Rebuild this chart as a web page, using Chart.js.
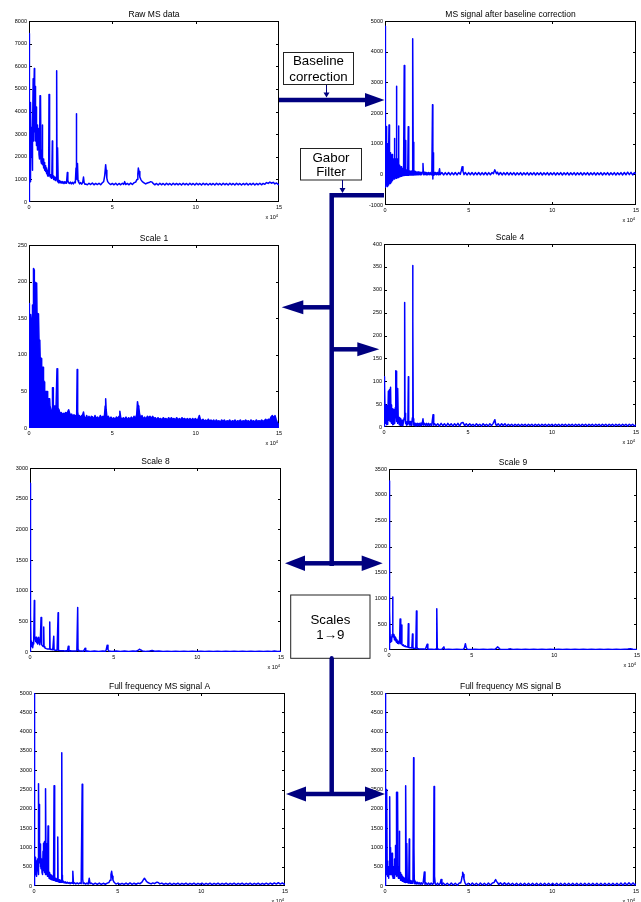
<!DOCTYPE html>
<html><head><meta charset="utf-8">
<script src="https://cdn.jsdelivr.net/npm/chart.js@4.4.1/dist/chart.umd.min.js"></script>
<style>
html,body{margin:0;padding:0;background:#fff;}
#page{position:relative;width:641px;height:902px;overflow:hidden;background:#fff;}
#page canvas{position:absolute;}
#page svg{position:absolute;left:0;top:0;}
</style></head>
<body><div id="page"></div>
<script>
// ---------------- DATA (x in units of 10^4) ----------------
const xRange = [0, 15, 5];
const titles = ['Raw MS data', 'MS signal after baseline correction', 'Scale 1', 'Scale 4',
                'Scale 8', 'Scale 9', 'Full frequency MS signal A', 'Full frequency MS signal B'];
const rawRange = [0, 8000, 1000];
const bcRange = [-1000, 5000, 1000];
const s1Range = [0, 250, 50];
const s4Range = [0, 400, 50];
const s8Range = [0, 3000, 500];
const s9Range = [0, 3500, 500];
const fullRange = [0, 5000, 500];
const boxTexts = [['Baseline', 'correction'], ['Gabor', 'Filter'], ['Scales', '1\u21929']];

const rawMS = [[0,0],[0.01,2500],[0.025,7450],[0.04,2200],[0.06,900],[0.08,3000],[0.1,4400],[0.12,2400],[0.14,3300],[0.16,2000],[0.18,2600],[0.2,1400],[0.22,2900],[0.25,5450],[0.27,2700],[0.29,4300],[0.32,5900],[0.34,3100],[0.36,4200],[0.38,5100],[0.4,2700],[0.42,3600],[0.44,4200],[0.46,2500],[0.48,3000],[0.5,3400],[0.52,2300],[0.55,3000],[0.58,3250],[0.6,2100],[0.62,2800],[0.64,1900],[0.66,4700],[0.68,2000],[0.7,4650],[0.72,1800],[0.74,2300],[0.76,1700],[0.78,2100],[0.8,3400],[0.82,1650],[0.85,1900],[0.88,1500],[0.91,1750],[0.94,1400],[0.97,1600],[1.0,1350],[1.03,1500],[1.06,1250],[1.09,1400],[1.12,1150],[1.15,1300],[1.18,1150],[1.2,4750],[1.22,1200],[1.25,1250],[1.28,1100],[1.31,1200],[1.34,1050],[1.37,1150],[1.4,2700],[1.42,1100],[1.45,1150],[1.48,1000],[1.51,1100],[1.54,980],[1.57,1080],[1.6,950],[1.63,1050],[1.66,5800],[1.68,1100],[1.7,900],[1.73,2400],[1.75,950],[1.78,850],[1.82,950],[1.86,850],[1.9,920],[1.95,840],[2.0,900],[2.05,820],[2.1,890],[2.15,820],[2.2,880],[2.25,830],[2.3,1300],[2.33,950],[2.37,850],[2.42,820],[2.48,880],[2.54,800],[2.6,870],[2.66,800],[2.72,880],[2.78,850],[2.82,1500],[2.84,3900],[2.86,1400],[2.88,1000],[2.91,1700],[2.94,950],[2.98,880],[3.04,800],[3.1,860],[3.16,790],[3.22,860],[3.27,1100],[3.31,850],[3.36,780],[3.4,800],[3.5,760],[3.6,830],[3.7,770],[3.8,840],[3.9,760],[4.0,820],[4.1,770],[4.2,830],[4.3,760],[4.4,850],[4.48,900],[4.54,1150],[4.6,1650],[4.63,1400],[4.67,1050],[4.72,900],[4.8,830],[4.9,770],[5.0,820],[5.1,760],[5.2,830],[5.3,750],[5.4,820],[5.5,760],[5.6,830],[5.68,780],[5.74,900],[5.8,770],[5.9,820],[6.0,760],[6.1,840],[6.2,770],[6.3,850],[6.4,880],[6.48,1000],[6.53,1250],[6.56,1500],[6.6,1350],[6.65,1100],[6.72,980],[6.8,900],[6.9,850],[7.0,800],[7.1,840],[7.2,860],[7.3,900],[7.38,880],[7.45,820],[7.55,760],[7.65,820],[7.75,750],[7.85,830],[7.95,760],[8.05,820],[8.15,750],[8.25,830],[8.35,760],[8.45,820],[8.55,750],[8.65,830],[8.75,760],[8.85,820],[8.95,760],[9.05,820],[9.15,750],[9.25,830],[9.35,760],[9.45,820],[9.55,750],[9.65,830],[9.75,760],[9.85,820],[9.95,750],[10.05,830],[10.15,760],[10.25,820],[10.35,750],[10.45,830],[10.55,760],[10.65,820],[10.75,750],[10.85,820],[10.95,760],[11.05,820],[11.15,750],[11.25,830],[11.35,760],[11.45,820],[11.55,750],[11.65,830],[11.75,760],[11.85,820],[11.95,750],[12.05,830],[12.15,760],[12.25,820],[12.35,750],[12.45,830],[12.55,760],[12.65,820],[12.75,750],[12.85,820],[12.95,760],[13.05,830],[13.15,750],[13.25,820],[13.35,760],[13.45,830],[13.55,750],[13.65,820],[13.75,760],[13.85,830],[13.95,760],[14.05,820],[14.15,780],[14.25,860],[14.35,820],[14.45,880],[14.55,830],[14.65,870],[14.75,800],[14.85,840],[14.95,770],[15,780]];

const baselineMS = [[0,-300],[0.008,4830],[0.016,-420],[0.03,1200],[0.045,-380],[0.06,900],[0.08,1560],[0.095,-350],[0.11,700],[0.125,-400],[0.14,1000],[0.155,-300],[0.17,600],[0.185,-350],[0.2,900],[0.215,-250],[0.23,700],[0.24,1610],[0.255,-300],[0.27,800],[0.285,-250],[0.3,500],[0.315,-300],[0.33,700],[0.345,-200],[0.36,600],[0.375,-250],[0.39,500],[0.405,-200],[0.42,650],[0.435,-150],[0.45,450],[0.465,-200],[0.48,500],[0.495,-150],[0.51,400],[0.525,-120],[0.54,500],[0.56,1170],[0.575,-150],[0.59,450],[0.605,-120],[0.62,380],[0.635,-100],[0.65,500],[0.665,-100],[0.68,2870],[0.695,-130],[0.71,350],[0.725,-100],[0.74,500],[0.755,-90],[0.77,300],[0.785,-100],[0.8,350],[0.82,1580],[0.835,-80],[0.85,250],[0.865,-80],[0.88,300],[0.9,-70],[0.92,220],[0.94,-60],[0.96,250],[0.98,-60],[1.0,200],[1.02,-50],[1.04,180],[1.06,-50],[1.08,200],[1.1,-40],[1.12,150],[1.15,3550],[1.17,-40],[1.19,160],[1.21,-30],[1.23,1100],[1.25,-30],[1.27,140],[1.29,-30],[1.31,130],[1.33,-30],[1.36,150],[1.39,1550],[1.41,-30],[1.43,120],[1.45,-25],[1.48,110],[1.5,-25],[1.53,100],[1.56,-20],[1.59,110],[1.62,-20],[1.64,120],[1.67,4420],[1.69,-20],[1.71,1050],[1.73,-20],[1.76,100],[1.79,-20],[1.82,90],[1.86,-15],[1.9,80],[1.94,-15],[1.98,80],[2.02,-15],[2.06,70],[2.1,-10],[2.14,70],[2.18,-10],[2.22,70],[2.27,350],[2.3,-10],[2.34,70],[2.38,-10],[2.42,60],[2.46,-10],[2.5,60],[2.55,-10],[2.6,60],[2.65,-10],[2.7,60],[2.75,-10],[2.8,60],[2.84,2270],[2.86,-150],[2.88,700],[2.9,-30],[2.94,60],[2.98,-10],[3.03,60],[3.08,-10],[3.13,60],[3.18,-10],[3.22,60],[3.26,180],[3.3,-10],[3.4,60],[3.5,-20],[3.6,55],[3.7,-15],[3.8,60],[3.9,-20],[4.0,55],[4.1,-15],[4.2,60],[4.3,-20],[4.4,55],[4.5,0],[4.56,120],[4.61,250],[4.66,100],[4.72,-10],[4.8,60],[4.9,-20],[5.0,55],[5.1,-15],[5.2,60],[5.3,-20],[5.4,55],[5.5,-15],[5.6,60],[5.7,-20],[5.8,55],[5.9,-15],[6.0,60],[6.1,-20],[6.2,55],[6.3,-15],[6.4,60],[6.48,20],[6.53,110],[6.56,150],[6.6,100],[6.66,20],[6.72,70],[6.8,-15],[6.9,60],[7.0,-20],[7.1,55],[7.2,-15],[7.3,60],[7.4,-20],[7.5,55],[7.6,-15],[7.7,55],[7.8,-20],[7.9,50],[8.0,-15],[8.1,55],[8.2,-20],[8.3,50],[8.4,-15],[8.5,55],[8.6,-20],[8.7,50],[8.8,-15],[8.9,55],[9.0,-20],[9.1,50],[9.2,-15],[9.3,55],[9.4,-20],[9.5,50],[9.6,-15],[9.7,55],[9.8,-20],[9.9,50],[10.0,-15],[10.1,55],[10.2,-20],[10.3,50],[10.4,-15],[10.5,55],[10.6,-20],[10.7,50],[10.8,-15],[10.9,55],[11.0,-20],[11.1,50],[11.2,-15],[11.3,55],[11.4,-20],[11.5,50],[11.6,-15],[11.7,55],[11.8,-20],[11.9,50],[12.0,-15],[12.1,55],[12.2,-20],[12.3,50],[12.4,-15],[12.5,55],[12.6,-20],[12.7,50],[12.8,-15],[12.9,55],[13.0,-20],[13.1,50],[13.2,-15],[13.3,55],[13.4,-20],[13.5,50],[13.6,-15],[13.7,55],[13.8,-20],[13.9,50],[14.0,-15],[14.1,55],[14.2,-20],[14.3,60],[14.4,-15],[14.5,70],[14.6,-10],[14.7,65],[14.8,-20],[14.9,55],[15,10]];

const scale1 = [[0,0],[0.005,170],[0.03,168],[0.04,125],[0.09,125],[0.1,155],[0.12,150],[0.14,120],[0.2,120],[0.21,168],[0.25,166],[0.27,218],[0.31,216],[0.32,185],[0.36,185],[0.37,199],[0.46,198],[0.48,157],[0.57,156],[0.6,120],[0.65,118],[0.67,96],[0.73,95],[0.76,83],[0.84,83],[0.87,65],[0.92,63],[0.94,50],[1.08,50],[1.12,40],[1.24,40],[1.26,30],[1.31,30],[1.33,24],[1.4,24],[1.41,55],[1.44,55],[1.46,30],[1.6,30],[1.62,27],[1.67,27],[1.68,81],[1.72,80],[1.74,27],[1.8,25],[1.86,20],[1.94,21],[2.0,18],[2.06,20],[2.12,19],[2.2,21],[2.26,20],[2.32,22],[2.38,25],[2.44,20],[2.5,17],[2.56,19],[2.62,16],[2.7,18],[2.78,16],[2.86,18],[2.89,80],[2.92,22],[2.96,16],[3.02,17],[3.1,14],[3.16,17],[3.22,18],[3.27,22],[3.32,15],[3.4,13],[3.46,17],[3.52,13],[3.6,16],[3.68,12],[3.74,16],[3.82,15],[3.9,12],[3.96,17],[4.04,13],[4.12,15],[4.2,12],[4.28,17],[4.36,14],[4.44,16],[4.52,15],[4.57,30],[4.6,40],[4.63,25],[4.68,14],[4.76,16],[4.84,12],[4.92,15],[5.0,12],[5.08,14],[5.16,11],[5.24,15],[5.32,13],[5.4,16],[5.45,23],[5.5,15],[5.58,11],[5.66,14],[5.74,12],[5.82,15],[5.9,11],[5.98,14],[6.06,12],[6.14,15],[6.22,12],[6.3,16],[6.38,13],[6.46,18],[6.51,36],[6.55,30],[6.59,28],[6.63,20],[6.7,14],[6.78,17],[6.86,12],[6.94,15],[7.02,12],[7.1,16],[7.18,14],[7.26,16],[7.34,13],[7.42,16],[7.5,13],[7.58,14],[7.66,11],[7.74,14],[7.82,12],[7.9,13],[7.98,11],[8.06,14],[8.14,12],[8.22,13],[8.3,11],[8.38,14],[8.46,11],[8.54,14],[8.62,12],[8.7,13],[8.78,11],[8.86,14],[8.94,11],[9.02,13],[9.1,11],[9.18,14],[9.26,12],[9.34,13],[9.42,11],[9.5,13],[9.58,11],[9.66,13],[9.74,10],[9.82,13],[9.9,11],[9.98,13],[10.06,11],[10.14,12],[10.22,17],[10.28,12],[10.36,10],[10.44,12],[10.52,9],[10.6,11],[10.68,9],[10.76,12],[10.84,9],[10.92,11],[11.0,9],[11.08,11],[11.16,8],[11.24,11],[11.32,9],[11.4,10],[11.48,8],[11.56,11],[11.64,9],[11.72,11],[11.8,8],[11.88,10],[11.96,9],[12.04,11],[12.12,8],[12.2,10],[12.28,9],[12.36,11],[12.44,8],[12.52,10],[12.6,9],[12.68,11],[12.76,8],[12.84,10],[12.92,9],[13.0,11],[13.08,9],[13.16,10],[13.24,8],[13.32,11],[13.4,9],[13.48,10],[13.56,8],[13.64,11],[13.72,9],[13.8,10],[13.88,9],[13.96,11],[14.04,9],[14.12,10],[14.2,12],[14.28,10],[14.36,12],[14.44,11],[14.52,15],[14.6,17],[14.68,14],[14.76,17],[14.84,11],[14.92,6],[15,5]];

const scale4 = [[0,0],[0.01,110],[0.03,50],[0.05,95],[0.07,20],[0.09,48],[0.11,8],[0.13,45],[0.15,5],[0.17,47],[0.19,10],[0.21,42],[0.23,6],[0.26,78],[0.28,15],[0.3,80],[0.32,20],[0.34,82],[0.36,12],[0.38,45],[0.4,87],[0.42,15],[0.44,48],[0.46,8],[0.49,40],[0.52,5],[0.55,38],[0.58,6],[0.61,35],[0.64,8],[0.67,42],[0.69,123],[0.71,20],[0.73,122],[0.75,12],[0.78,35],[0.8,8],[0.83,84],[0.85,10],[0.88,22],[0.91,5],[0.94,20],[0.97,4],[1.0,18],[1.04,4],[1.08,15],[1.12,3],[1.16,12],[1.2,20],[1.23,272],[1.25,30],[1.27,8],[1.3,12],[1.34,4],[1.38,12],[1.42,5],[1.45,110],[1.47,8],[1.5,12],[1.54,4],[1.58,12],[1.62,4],[1.66,10],[1.69,20],[1.71,353],[1.72,231],[1.74,18],[1.77,4],[1.81,9],[1.85,3],[1.9,8],[1.95,3],[2.0,8],[2.05,3],[2.1,8],[2.15,3],[2.2,9],[2.26,4],[2.32,18],[2.36,4],[2.42,8],[2.48,3],[2.54,8],[2.6,3],[2.66,8],[2.72,3],[2.78,7],[2.84,3],[2.92,27],[2.96,4],[3.02,7],[3.1,3],[3.2,7],[3.3,2],[3.4,8],[3.5,3],[3.6,7],[3.7,2],[3.8,8],[3.9,3],[4.0,7],[4.1,2],[4.2,7],[4.3,3],[4.4,8],[4.5,2],[4.6,9],[4.7,10],[4.8,3],[4.9,7],[5.0,2],[5.1,7],[5.2,3],[5.3,6],[5.4,2],[5.5,7],[5.6,3],[5.7,6],[5.8,2],[5.9,7],[6.0,3],[6.1,6],[6.2,2],[6.3,7],[6.4,3],[6.5,8],[6.6,16],[6.65,6],[6.7,3],[6.8,7],[6.9,2],[7.0,7],[7.1,3],[7.2,7],[7.3,2],[7.4,6],[7.5,3],[7.6,6],[7.7,2],[7.8,6],[7.9,3],[8.0,6],[8.1,2],[8.2,6],[8.3,3],[8.4,6],[8.5,2],[8.6,6],[8.7,3],[8.8,6],[8.9,2],[9.0,6],[9.1,3],[9.2,6],[9.3,2],[9.4,6],[9.5,3],[9.6,6],[9.7,2],[9.8,6],[9.9,3],[10.0,6],[10.1,2],[10.2,6],[10.3,3],[10.4,6],[10.5,2],[10.6,6],[10.7,3],[10.8,6],[10.9,2],[11.0,6],[11.1,3],[11.2,6],[11.3,2],[11.4,6],[11.5,3],[11.6,6],[11.7,2],[11.8,6],[11.9,3],[12.0,6],[12.1,2],[12.2,6],[12.3,3],[12.4,6],[12.5,2],[12.6,6],[12.7,3],[12.8,6],[12.9,2],[13.0,6],[13.1,3],[13.2,6],[13.3,2],[13.4,6],[13.5,3],[13.6,6],[13.7,2],[13.8,6],[13.9,3],[14.0,6],[14.1,2],[14.2,6],[14.3,3],[14.4,6],[14.5,2],[14.6,6],[14.7,3],[14.8,6],[14.9,2],[15,5]];

const scale8 = [[0,0],[0.01,1000],[0.025,2750],[0.035,2700],[0.045,600],[0.06,120],[0.08,180],[0.1,90],[0.13,150],[0.16,70],[0.19,130],[0.22,150],[0.26,840],[0.28,260],[0.31,220],[0.34,170],[0.37,240],[0.4,150],[0.43,190],[0.46,130],[0.49,230],[0.52,240],[0.55,150],[0.58,120],[0.62,200],[0.66,562],[0.68,180],[0.71,120],[0.75,100],[0.79,90],[0.82,409],[0.84,90],[0.88,70],[0.93,60],[0.98,55],[1.04,50],[1.1,48],[1.15,50],[1.18,491],[1.2,45],[1.25,40],[1.3,40],[1.36,35],[1.42,256],[1.44,35],[1.5,30],[1.56,30],[1.62,28],[1.68,638],[1.7,30],[1.76,25],[1.84,22],[1.92,20],[2.0,22],[2.08,18],[2.16,20],[2.24,18],[2.29,95],[2.33,18],[2.4,20],[2.5,15],[2.6,18],[2.7,15],[2.8,20],[2.85,725],[2.87,30],[2.92,18],[3.0,15],[3.1,18],[3.2,14],[3.29,60],[3.33,14],[3.42,16],[3.6,10],[3.85,17],[4.1,9],[4.35,16],[4.5,12],[4.55,30],[4.61,109],[4.66,40],[4.72,15],[4.9,9],[5.15,16],[5.4,9],[5.65,15],[5.9,9],[6.15,15],[6.35,12],[6.45,25],[6.54,45],[6.62,32],[6.72,18],[6.9,10],[7.15,16],[7.3,25],[7.45,12],[7.7,15],[7.95,8],[8.2,14],[8.45,8],[8.7,14],[8.95,8],[9.2,14],[9.45,8],[9.7,14],[9.95,8],[10.2,14],[10.45,8],[10.7,14],[10.95,8],[11.2,14],[11.45,8],[11.7,14],[11.95,8],[12.2,14],[12.45,8],[12.7,14],[12.95,8],[13.2,14],[13.45,8],[13.7,14],[13.95,8],[14.2,14],[14.45,10],[14.6,18],[14.8,10],[15,12]];

const scale9 = [[0,0],[0.01,1600],[0.02,3270],[0.03,1200],[0.045,300],[0.06,746],[0.075,200],[0.09,150],[0.11,250],[0.13,170],[0.16,200],[0.19,300],[0.22,1023],[0.24,330],[0.27,250],[0.3,300],[0.33,200],[0.36,260],[0.39,180],[0.42,230],[0.45,150],[0.48,200],[0.52,130],[0.56,170],[0.6,120],[0.64,150],[0.67,598],[0.7,140],[0.72,120],[0.75,482],[0.78,110],[0.82,90],[0.87,100],[0.92,70],[0.98,80],[1.04,60],[1.1,65],[1.14,55],[1.17,508],[1.2,50],[1.26,45],[1.32,45],[1.38,40],[1.42,309],[1.45,35],[1.5,35],[1.56,30],[1.62,30],[1.66,753],[1.69,60],[1.72,25],[1.8,22],[1.9,20],[2.0,18],[2.1,20],[2.2,15],[2.31,110],[2.35,15],[2.45,14],[2.6,15],[2.75,12],[2.85,20],[2.89,798],[2.92,40],[2.97,15],[3.1,12],[3.2,14],[3.32,60],[3.36,12],[3.6,16],[3.85,9],[4.1,15],[4.35,9],[4.5,14],[4.56,40],[4.62,122],[4.67,45],[4.74,12],[4.95,9],[5.2,15],[5.45,9],[5.7,14],[5.95,9],[6.2,14],[6.4,12],[6.48,30],[6.56,60],[6.63,45],[6.72,14],[6.95,9],[7.2,15],[7.35,22],[7.5,10],[7.75,14],[8.0,8],[8.25,13],[8.5,8],[8.75,13],[9.0,8],[9.25,13],[9.5,8],[9.75,13],[10.0,8],[10.25,13],[10.5,8],[10.75,13],[11.0,8],[11.25,13],[11.5,8],[11.75,13],[12.0,8],[12.25,13],[12.5,8],[12.75,13],[13.0,8],[13.25,13],[13.5,8],[13.75,13],[14.0,8],[14.25,14],[14.45,18],[14.6,25],[14.75,15],[15,10]];

const fullA = [[0,0],[0.01,5000],[0.03,5000],[0.04,2000],[0.05,300],[0.06,600],[0.08,744],[0.1,300],[0.12,350],[0.14,650],[0.16,250],[0.18,500],[0.2,700],[0.22,400],[0.24,550],[0.26,300],[0.28,2647],[0.3,600],[0.32,2110],[0.34,700],[0.36,1090],[0.38,500],[0.4,900],[0.42,450],[0.44,700],[0.46,650],[0.48,350],[0.5,700],[0.52,300],[0.54,900],[0.56,1107],[0.58,400],[0.6,800],[0.62,1150],[0.64,350],[0.66,700],[0.68,300],[0.7,2517],[0.72,400],[0.74,1100],[0.76,300],[0.78,600],[0.8,250],[0.82,500],[0.84,1557],[0.86,250],[0.88,400],[0.9,200],[0.93,350],[0.96,180],[0.99,300],[1.02,170],[1.05,280],[1.08,160],[1.11,250],[1.14,150],[1.17,230],[1.2,2595],[1.22,150],[1.25,220],[1.28,130],[1.31,200],[1.34,120],[1.37,180],[1.4,120],[1.42,1271],[1.44,110],[1.47,170],[1.5,100],[1.53,160],[1.56,100],[1.6,150],[1.63,100],[1.66,3451],[1.68,280],[1.7,100],[1.74,130],[1.8,80],[1.86,110],[1.92,70],[1.98,100],[2.04,70],[2.1,90],[2.16,60],[2.22,90],[2.28,70],[2.32,380],[2.36,60],[2.42,85],[2.5,55],[2.58,80],[2.66,55],[2.74,80],[2.82,60],[2.88,2638],[2.91,180],[2.94,60],[3.0,80],[3.08,50],[3.16,75],[3.24,50],[3.3,200],[3.35,60],[3.42,75],[3.54,40],[3.66,72],[3.78,42],[3.9,75],[4.02,40],[4.14,70],[4.26,45],[4.38,75],[4.48,90],[4.55,150],[4.6,300],[4.64,380],[4.68,250],[4.72,150],[4.8,90],[4.9,50],[5.02,75],[5.14,40],[5.26,70],[5.38,42],[5.5,75],[5.62,40],[5.74,80],[5.86,42],[5.98,72],[6.1,45],[6.22,75],[6.34,60],[6.45,100],[6.55,170],[6.6,200],[6.65,170],[6.72,120],[6.8,90],[6.9,70],[7.0,55],[7.1,80],[7.2,60],[7.3,90],[7.36,100],[7.44,85],[7.52,55],[7.64,75],[7.76,40],[7.88,70],[8.0,40],[8.12,72],[8.24,38],[8.36,70],[8.48,40],[8.6,72],[8.72,38],[8.84,70],[8.96,40],[9.08,72],[9.2,38],[9.32,70],[9.44,40],[9.56,72],[9.68,38],[9.8,70],[9.92,40],[10.04,72],[10.16,38],[10.28,70],[10.4,40],[10.52,72],[10.64,38],[10.76,70],[10.88,40],[11.0,72],[11.12,38],[11.24,70],[11.36,40],[11.48,72],[11.6,38],[11.72,70],[11.84,40],[11.96,72],[12.08,38],[12.2,70],[12.32,40],[12.44,72],[12.56,38],[12.68,70],[12.8,40],[12.92,72],[13.04,38],[13.16,70],[13.28,40],[13.4,72],[13.52,38],[13.64,70],[13.76,40],[13.88,72],[14.0,40],[14.12,75],[14.24,45],[14.36,80],[14.48,50],[14.6,85],[14.72,50],[14.84,80],[14.96,45],[15,60]];

const fullB = [[0,0],[0.01,5000],[0.04,5000],[0.05,800],[0.07,300],[0.09,600],[0.11,2500],[0.13,400],[0.15,650],[0.17,250],[0.19,500],[0.21,200],[0.23,450],[0.26,300],[0.28,2310],[0.3,600],[0.32,300],[0.34,1000],[0.36,350],[0.38,700],[0.4,300],[0.42,850],[0.44,250],[0.46,600],[0.48,200],[0.5,500],[0.52,250],[0.54,450],[0.56,200],[0.58,700],[0.6,300],[0.62,1050],[0.64,300],[0.66,700],[0.68,250],[0.7,2430],[0.72,300],[0.74,600],[0.76,2430],[0.78,250],[0.8,500],[0.82,200],[0.84,400],[0.86,1419],[0.88,200],[0.9,350],[0.93,150],[0.96,300],[0.99,140],[1.02,250],[1.05,120],[1.08,220],[1.11,110],[1.14,200],[1.17,100],[1.2,180],[1.22,90],[1.25,2595],[1.27,100],[1.29,200],[1.31,1100],[1.33,90],[1.36,170],[1.39,80],[1.42,150],[1.45,1220],[1.47,80],[1.5,140],[1.53,70],[1.56,130],[1.6,70],[1.64,120],[1.67,70],[1.71,3322],[1.73,1000],[1.75,150],[1.78,60],[1.82,110],[1.87,50],[1.92,100],[1.98,50],[2.04,90],[2.1,40],[2.16,85],[2.22,40],[2.28,80],[2.35,360],[2.39,40],[2.45,80],[2.52,35],[2.6,75],[2.68,35],[2.76,75],[2.84,40],[2.9,70],[2.93,2578],[2.95,1700],[2.97,250],[3.0,60],[3.06,30],[3.14,75],[3.22,30],[3.3,70],[3.35,170],[3.4,30],[3.48,75],[3.6,25],[3.72,70],[3.84,20],[3.96,75],[4.08,25],[4.2,70],[4.32,20],[4.44,75],[4.52,80],[4.57,150],[4.61,250],[4.64,355],[4.68,300],[4.72,180],[4.78,80],[4.86,25],[4.98,70],[5.1,20],[5.22,75],[5.34,25],[5.46,70],[5.58,20],[5.7,75],[5.82,25],[5.94,70],[6.06,20],[6.18,75],[6.3,25],[6.42,80],[6.52,90],[6.58,150],[6.61,170],[6.66,120],[6.72,90],[6.8,40],[6.9,80],[7.02,30],[7.14,80],[7.26,30],[7.38,75],[7.5,25],[7.62,70],[7.74,20],[7.86,70],[7.98,20],[8.1,70],[8.22,20],[8.34,70],[8.46,20],[8.58,70],[8.7,20],[8.82,70],[8.94,20],[9.06,70],[9.18,20],[9.3,70],[9.42,20],[9.54,70],[9.66,20],[9.78,70],[9.9,20],[10.02,70],[10.14,20],[10.26,70],[10.38,20],[10.5,70],[10.62,20],[10.74,70],[10.86,20],[10.98,70],[11.1,20],[11.22,70],[11.34,20],[11.46,70],[11.58,20],[11.7,70],[11.82,20],[11.94,70],[12.06,20],[12.18,70],[12.3,20],[12.42,70],[12.54,20],[12.66,70],[12.78,20],[12.9,70],[13.02,20],[13.14,70],[13.26,20],[13.38,70],[13.5,20],[13.62,70],[13.74,20],[13.86,70],[13.98,20],[14.1,75],[14.22,20],[14.34,80],[14.46,25],[14.58,85],[14.7,25],[14.82,80],[14.94,25],[15,60]];

// ---------------- LAYOUT (plot-area rectangles in page pixels: L, T, R, B) ----------------
const panels = [
  {rect:[29,21,279,202],  data:rawMS,      yr:rawRange,  fill:false},
  {rect:[385,21,636,205], data:baselineMS, yr:bcRange,   fill:false},
  {rect:[29,245,279,428], data:scale1,     yr:s1Range,   fill:true},
  {rect:[384,244,636,427],data:scale4,     yr:s4Range,   fill:false},
  {rect:[30,468,281,652], data:scale8,     yr:s8Range,   fill:false},
  {rect:[389,469,637,650],data:scale9,     yr:s9Range,   fill:false},
  {rect:[34,693,285,886], data:fullA,      yr:fullRange, fill:false},
  {rect:[385,693,636,886],data:fullB,      yr:fullRange, fill:false}
];

const FONT = "'Liberation Sans', Arial, Helvetica, sans-serif";
const BLUE = '#0000ff';
const NAVY = '#000080';
const PADL = 32, PADT = 16, PADR = 10, PADB = 24;
const page = document.getElementById('page');

const framePlugin = {
  id: 'frame',
  beforeDatasetsDraw(chart) {
    const ctx = chart.ctx, a = chart.chartArea, xs = chart.scales.x, ys = chart.scales.y;
    ctx.save();
    ctx.strokeStyle = '#000';
    ctx.lineWidth = 1;
    ctx.strokeRect(a.left + 0.5, a.top + 0.5, a.right - a.left - 1, a.bottom - a.top - 1);
    ctx.beginPath();
    ys.ticks.forEach(t => {
      if (t.value <= ys.min || t.value >= ys.max) return;
      const py = Math.round(ys.getPixelForValue(t.value)) + 0.5;
      ctx.moveTo(a.left, py); ctx.lineTo(a.left + 3, py);
      ctx.moveTo(a.right, py); ctx.lineTo(a.right - 3, py);
    });
    xs.ticks.forEach(t => {
      if (t.value <= xs.min || t.value >= xs.max) return;
      const px = Math.round(xs.getPixelForValue(t.value)) + 0.5;
      ctx.moveTo(px, a.top); ctx.lineTo(px, a.top + 3);
      ctx.moveTo(px, a.bottom); ctx.lineTo(px, a.bottom - 3);
    });
    ctx.stroke();
    ctx.restore();
  },
  afterDraw(chart, args, opts) {
    const ctx = chart.ctx, a = chart.chartArea;
    ctx.save();
    ctx.fillStyle = '#000';
    ctx.textAlign = 'center';
    ctx.textBaseline = 'alphabetic';
    ctx.font = '8.5px ' + FONT;
    ctx.fillText(opts.title, (a.left + a.right) / 2, a.top - 4);
    ctx.textAlign = 'right';
    ctx.font = '4px ' + FONT;
    ctx.fillText('4', a.right - 1, a.bottom + 14.5);
    const w4 = ctx.measureText('4').width;
    ctx.font = '5.5px ' + FONT;
    ctx.fillText('x 10', a.right - 1 - w4, a.bottom + 17);
    ctx.restore();
  }
};

function makeChart(p, title) {
  const [L, T, R, B] = p.rect;
  const w = R - L + PADL + PADR, h = B - T + PADT + PADB;
  const cv = document.createElement('canvas');
  cv.width = w; cv.height = h;
  cv.style.left = (L - PADL) + 'px';
  cv.style.top = (T - PADT) + 'px';
  cv.style.width = w + 'px';
  cv.style.height = h + 'px';
  page.appendChild(cv);
  const tickFont = {family: FONT, size: 5.5};
  return new Chart(cv, {
    type: 'line',
    data: {datasets: [{
      data: p.data.map(d => ({x: d[0], y: d[1]})),
      borderColor: BLUE, backgroundColor: BLUE, borderWidth: 1.5,
      pointRadius: 0, fill: p.fill ? 'origin' : false, tension: 0,
      borderJoinStyle: 'round'
    }]},
    options: {
      responsive: false, animation: false, devicePixelRatio: 1, events: [],
      layout: {padding: {top: PADT, right: PADR, left: 0, bottom: 0}},
      plugins: {legend: {display: false}, tooltip: {enabled: false}, frame: {title: title}},
      scales: {
        x: {type: 'linear', min: xRange[0], max: xRange[1],
            ticks: {stepSize: xRange[2], font: tickFont, color: '#000', padding: 2, maxRotation: 0, autoSkip: false, callback: v => String(v)},
            grid: {display: false, drawTicks: false}, border: {display: false},
            afterFit: s => { s.height = PADB; }},
        y: {type: 'linear', min: p.yr[0], max: p.yr[1],
            ticks: {stepSize: p.yr[2], font: tickFont, color: '#000', padding: 2, autoSkip: false, callback: v => String(v)},
            grid: {display: false, drawTicks: false}, border: {display: false},
            afterFit: s => { s.width = PADL; }}
      }
    },
    plugins: [framePlugin]
  });
}

panels.forEach((p, i) => makeChart(p, titles[i]));

// ---------------- FLOW DIAGRAM OVERLAY ----------------
function hArrow(x1, x2, y, headLen, half) {
  const dir = x2 > x1 ? 1 : -1;
  const base = x2 - dir * headLen;
  return `<line x1="${x1}" y1="${y}" x2="${base + dir}" y2="${y}" stroke="${NAVY}" stroke-width="4.5"/>` +
         `<polygon points="${base},${y - half} ${x2},${y} ${base},${y + half}" fill="${NAVY}"/>`;
}
function smallDown(x, y1, y2) {
  return `<line x1="${x}" y1="${y1}" x2="${x}" y2="${y2 - 4}" stroke="${NAVY}" stroke-width="1"/>` +
         `<polygon points="${x - 3},${y2 - 5} ${x + 3},${y2 - 5} ${x},${y2}" fill="${NAVY}"/>`;
}
function box(x, y, w, h, lines, y1, y2) {
  const cx = x + w / 2;
  return `<rect x="${x}" y="${y}" width="${w}" height="${h}" fill="#fff" stroke="#222" stroke-width="1"/>` +
         `<text x="${cx}" y="${y1}" text-anchor="middle" font-family="Liberation Sans, Arial, sans-serif" font-size="13.3" fill="#000">${lines[0]}</text>` +
         `<text x="${cx}" y="${y2}" text-anchor="middle" font-family="Liberation Sans, Arial, sans-serif" font-size="13.3" fill="#000">${lines[1]}</text>`;
}
let svg = `<svg width="641" height="902" xmlns="http://www.w3.org/2000/svg">`;
svg += hArrow(279, 384.5, 100, 19.5, 7);
svg += box(283.5, 52.5, 70, 32, boxTexts[0], 64.5, 81);
svg += smallDown(326.5, 85, 97.5);
svg += box(300.5, 148.5, 61, 31.5, boxTexts[1], 161.5, 176);
svg += smallDown(342.5, 180, 193);
svg += `<path d="M384,195.3 L331.7,195.3 L331.7,566" fill="none" stroke="${NAVY}" stroke-width="4.5" stroke-linejoin="miter"/>`;
svg += hArrow(331.7, 281.7, 307.3, 21.6, 7);
svg += hArrow(331.7, 379.3, 349.3, 22, 7);
svg += hArrow(331.7, 285, 563.3, 20, 7.7);
svg += hArrow(331.7, 382.7, 563.3, 21, 7.7);
svg += box(290.7, 595, 79.3, 63.3, boxTexts[2], 623.5, 639);
svg += `<line x1="331.7" y1="658" x2="331.7" y2="796" stroke="${NAVY}" stroke-width="4.5"/>`;
svg += `<circle cx="331.7" cy="658" r="2" fill="${NAVY}"/>`;
svg += hArrow(331.7, 286, 794, 20, 7.5);
svg += hArrow(331.7, 385, 794, 20, 7.5);
svg += `</svg>`;
page.insertAdjacentHTML('beforeend', svg);
</script>
</body></html>
